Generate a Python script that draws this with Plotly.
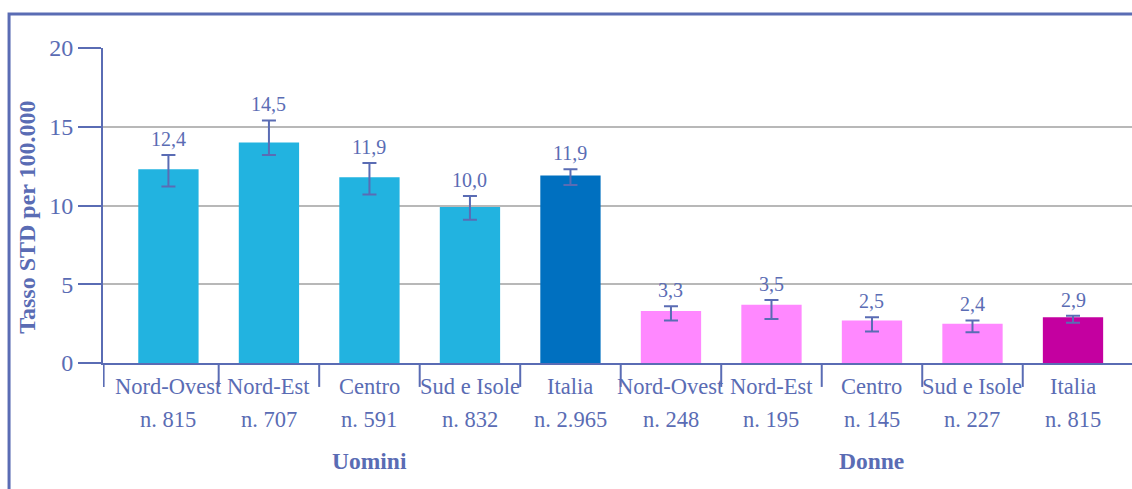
import plotly.graph_objects as go

# dati
regioni = ["Nord-Ovest", "Nord-Est", "Centro", "Sud e Isole", "Italia"]
casi_uomini = ["n. 815", "n. 707", "n. 591", "n. 832", "n. 2.965"]
casi_donne = ["n. 248", "n. 195", "n. 145", "n. 227", "n. 815"]

tasso_uomini = [12.3, 14.0, 11.8, 9.9, 11.9]
sup_uomini = [13.2, 15.4, 12.7, 10.6, 12.3]
inf_uomini = [11.2, 13.2, 10.7, 9.1, 11.3]
etichette_uomini = ["12,4", "14,5", "11,9", "10,0", "11,9"]

tasso_donne = [3.3, 3.7, 2.7, 2.5, 2.9]
sup_donne = [3.6, 4.0, 2.9, 2.7, 3.0]
inf_donne = [2.7, 2.8, 2.0, 1.95, 2.55]
etichette_donne = ["3,3", "3,5", "2,5", "2,4", "2,9"]

gruppi = ["Uomini", "Donne"]

BLUE = "#5A6CB4"
FONT = "Liberation Serif"
colori = ["#22B3E0"] * 4 + ["#0070C0"] + ["#FF88FF"] * 4 + ["#C400A0"]

etichette = regioni + regioni
casi = casi_uomini + casi_donne
tasso = tasso_uomini + tasso_donne
sup = sup_uomini + sup_donne
inf = inf_uomini + inf_donne
valori = etichette_uomini + etichette_donne
xs = list(range(len(tasso)))

fig = go.Figure(
    go.Bar(
        x=xs,
        y=tasso,
        width=0.6,
        marker=dict(color=colori, line=dict(width=0)),
        error_y=dict(
            type="data",
            symmetric=False,
            array=[s - t for s, t in zip(sup, tasso)],
            arrayminus=[t - i for t, i in zip(tasso, inf)],
            color=BLUE,
            thickness=2,
            width=7,
        ),
        hoverinfo="skip",
    )
)

annotazioni = []
for x, s, v in zip(xs, sup, valori):
    annotazioni.append(dict(x=x, y=s, xref="x", yref="y", text=v, showarrow=False,
                            yanchor="bottom", yshift=3, font=dict(size=20, color=BLUE, family=FONT)))
for x, reg, n in zip(xs, etichette, casi):
    annotazioni.append(dict(x=x, y=-0.075, xref="x", yref="paper", text=reg, showarrow=False,
                            yanchor="middle", font=dict(size=22.5, color=BLUE, family=FONT)))
    annotazioni.append(dict(x=x, y=-0.178, xref="x", yref="paper", text=n, showarrow=False,
                            yanchor="middle", font=dict(size=22.5, color=BLUE, family=FONT)))
for k, g in enumerate(gruppi):
    annotazioni.append(dict(x=2 + 5 * k, y=-0.311, xref="x", yref="paper", text="<b>" + g + "</b>",
                            showarrow=False, yanchor="middle", font=dict(size=23.5, color=BLUE, family=FONT)))
annotazioni.append(dict(x=-0.0735, y=0.462, xref="paper", yref="paper", text="<b>Tasso STD per 100.000</b>",
                        textangle=-90, showarrow=False, xanchor="center", yanchor="middle",
                        font=dict(size=24, color=BLUE, family=FONT)))

forme = []
divisori = [-0.645] + [i + 0.5 for i in range(len(xs) - 1)]
for d in divisori:
    forme.append(dict(type="line", xref="x", yref="paper", x0=d, x1=d, y0=0, y1=-0.076,
                      line=dict(color=BLUE, width=2)))
forme.append(dict(type="rect", xref="paper", yref="paper", x0=-0.0913, x1=1.05, y0=-0.5, y1=1.108,
                  line=dict(color=BLUE, width=3)))

fig.update_layout(
    width=1132,
    height=489,
    margin=dict(l=103, r=0, t=48, b=126),
    plot_bgcolor="white",
    paper_bgcolor="white",
    showlegend=False,
    annotations=annotazioni,
    shapes=forme,
    xaxis=dict(range=[-0.651, 9.587], showticklabels=False, showgrid=False, zeroline=False,
               showline=True, linecolor=BLUE, linewidth=2, ticks=""),
    yaxis=dict(range=[0, 20], tickvals=[0, 5, 10, 15, 20], ticks="outside", ticklen=23,
               tickcolor=BLUE, tickwidth=2, showline=True, linecolor=BLUE, linewidth=2,
               gridcolor="#B8B8B8", gridwidth=1.5, zeroline=False,
               tickfont=dict(size=24, color=BLUE, family=FONT)),
)

# niente margine della pagina, così la figura occupa tutta la finestra
fig.write_html("out.html", config={"displayModeBar": False},
               post_script="document.body.style.margin='0';document.body.style.overflow='hidden';")
